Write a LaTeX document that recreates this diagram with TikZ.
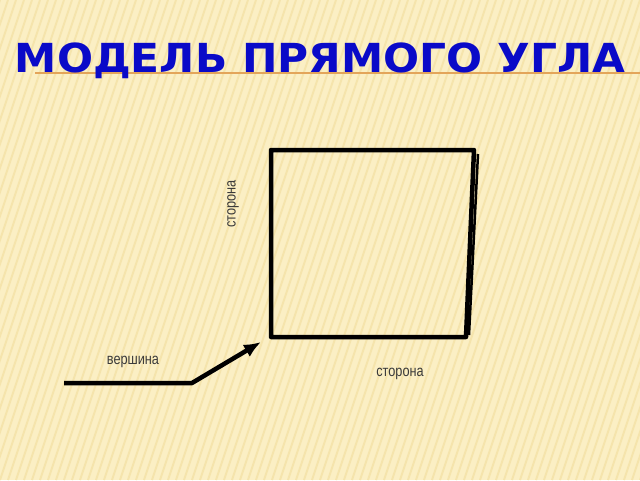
\documentclass[tikz,border=0pt]{standalone}
\usepackage{fontspec}
\setmainfont{Liberation Sans}
\newfontfamily\titlefont{DejaVu Sans}
\newfontfamily\narrowfont[FakeStretch=0.82]{Liberation Sans}
\usetikzlibrary{arrows.meta}
\definecolor{Paper}{HTML}{FBEFC4}
\definecolor{Stripe}{HTML}{F5E4AC}
\definecolor{TitleBlue}{HTML}{0A0AC8}
\definecolor{Rule}{HTML}{E3A55A}
\definecolor{Caption}{HTML}{3A3A3A}

\begin{document}
\begin{tikzpicture}[x=1pt,y=-1pt,
    side/.style={line width=4.5pt,line join=round},
    caption/.style={font=\narrowfont\fontsize{15.5}{15.5}\selectfont,text=Caption,inner sep=0pt}]
        \useasboundingbox (0,0) rectangle (640,480);
        \begin{scope}
          \clip (0,0) rectangle (640,480);
          \fill[Paper] (0,0) rectangle (640,480);
          \foreach \i in {-480,-472,...,640}
            \draw[Stripe,line width=2pt] (\i,480) -- (\i+160,0);
        \end{scope}
        % title
        \draw[Rule,line width=1.5pt] (35,73) -- (640,73);
        \node[text=TitleBlue,font=\titlefont\bfseries\fontsize{40}{40}\selectfont,inner sep=0pt,xscale=1.06,anchor=base] (title) at (320,72) {МОДЕЛЬ ПРЯМОГО УГЛА};
        % angle model
        \coordinate (vertex) at (271,337);
        \coordinate (top) at (271,150);
        \coordinate (corner) at (474,150);
        \coordinate (foot) at (466,337);
        \draw[side] (vertex) -- (top) -- (corner) -- (foot) -- cycle;
        \draw[line width=2.5pt] (478,154) -- (469,335);
        \node[caption,rotate=90] (side1) at (233,204) {сторона};
        \node[caption] (side2) at (400,374) {сторона};
        \node[caption] (apex) at (133,362) {вершина};
        % pointer
        \coordinate (tail) at (64,383);
        \coordinate (bend) at (192,383);
        \coordinate (tip) at (261,342);
        \draw[side,-{Latex[length=17pt,width=14pt]}] (tail) -- (bend) -- (tip);
      \end{tikzpicture}
\end{document}
